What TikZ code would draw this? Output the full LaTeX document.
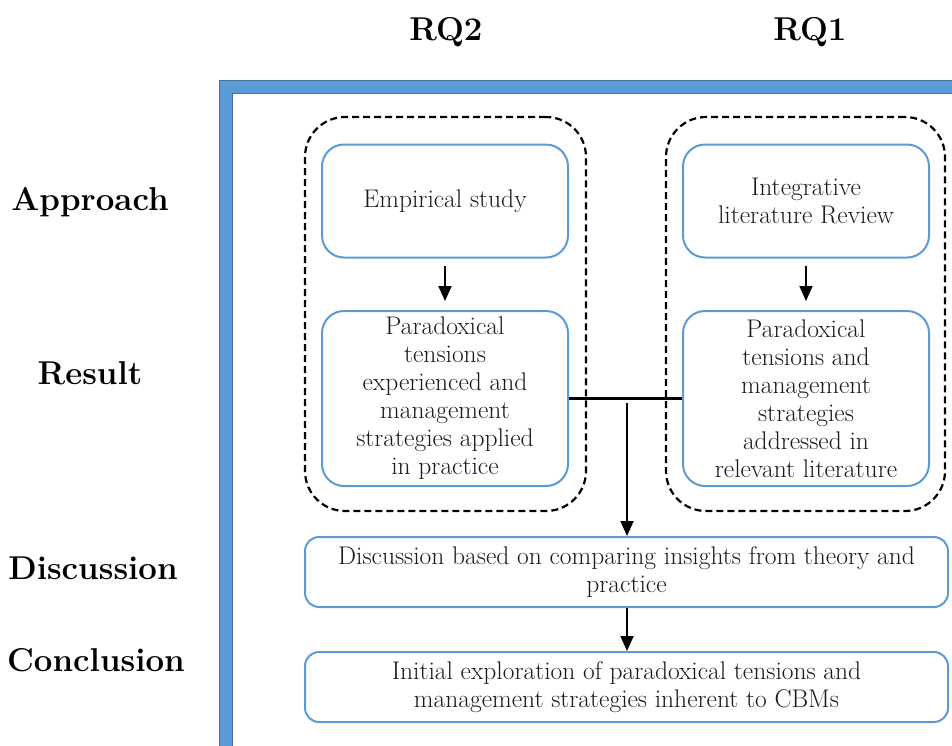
\documentclass[tikz,border=0pt]{standalone}
\usetikzlibrary{arrows.meta}
\definecolor{frameblue}{HTML}{5B9BD5}
\definecolor{framedark}{HTML}{41719C}
\definecolor{boxblue}{HTML}{5B9BD5}
\definecolor{txt}{HTML}{1A1A1A}
\tikzset{
  bluebox/.style={draw=boxblue, line width=2pt, rounded corners=22pt, align=center, inner sep=0pt,
    text=txt, font=\fontsize{25.5}{28}\selectfont},
  dashbox/.style={draw=black, line width=2.2pt, dash pattern=on 7pt off 4pt, rounded corners=40pt, inner sep=0pt},
  rowlabel/.style={font=\bfseries\fontsize{33}{36}\selectfont},
  conn/.style={line width=1.8pt, -{Triangle[length=15pt,width=13pt]}},
  plainline/.style={line width=2.2pt}
}
\begin{document}
\begin{tikzpicture}[x=1pt,y=-1pt]
\useasboundingbox (0,0) rectangle (952,745);
% frame
\fill[frameblue, draw=framedark, line width=0.8pt] (219,746) -- (219,80) -- (953,80) -- (953,93) -- (232,93) -- (232,746) -- cycle;
% column and row labels
\node[rowlabel] (rq2) at (446,32) {RQ2};
\node[rowlabel] (rq1) at (810,32) {RQ1};
\node[rowlabel] (lapp) at (90,202) {Approach};
\node[rowlabel] (lres) at (90,373) {Result};
\node[rowlabel] (ldis) at (93,568) {Discussion};
\node[rowlabel] (lcon) at (96,660) {Conclusion};
% dashed groups
\node[dashbox, minimum width=281pt, minimum height=394pt] (g2) at (445.5,314) {};
\node[dashbox, minimum width=279pt, minimum height=394pt] (g1) at (805.5,314) {};
% boxes
\node[bluebox, minimum width=246pt, minimum height=113pt] (emp) at (445,201) {Empirical study};
\node[bluebox, minimum width=246pt, minimum height=113pt] (int) at (806,201) {Integrative\\literature Review};
\node[bluebox, minimum width=246pt, minimum height=175pt] (res2) at (445,398.5)
  {Paradoxical\\tensions\\experienced and\\management\\strategies applied\\in practice};
\node[bluebox, minimum width=246pt, minimum height=175pt] (res1) at (806,398.5)
  {Paradoxical\\tensions and\\management\\strategies\\addressed in\\relevant literature};
\node[bluebox, rounded corners=14pt, minimum width=643pt, minimum height=70pt] (disc) at (626.5,572)
  {Discussion based on comparing insights from theory and\\practice};
\node[bluebox, rounded corners=14pt, minimum width=643pt, minimum height=70pt] (conc) at (626.5,687)
  {Initial exploration of paradoxical tensions and\\management strategies inherent to CBMs};
% connectors
\draw[conn] ([yshift=-7pt]emp.south) -- ([yshift=9pt]res2.north);
\draw[conn] ([yshift=-7pt]int.south) -- ([yshift=9pt]res1.north);
\draw[plainline] (res2.east) -- (res1.west);
\coordinate (j) at (627,403);
\draw[conn] (j) -- (j |- disc.north);
\draw[conn] (j |- disc.south) -- (j |- conc.north);
\end{tikzpicture}
\end{document}
